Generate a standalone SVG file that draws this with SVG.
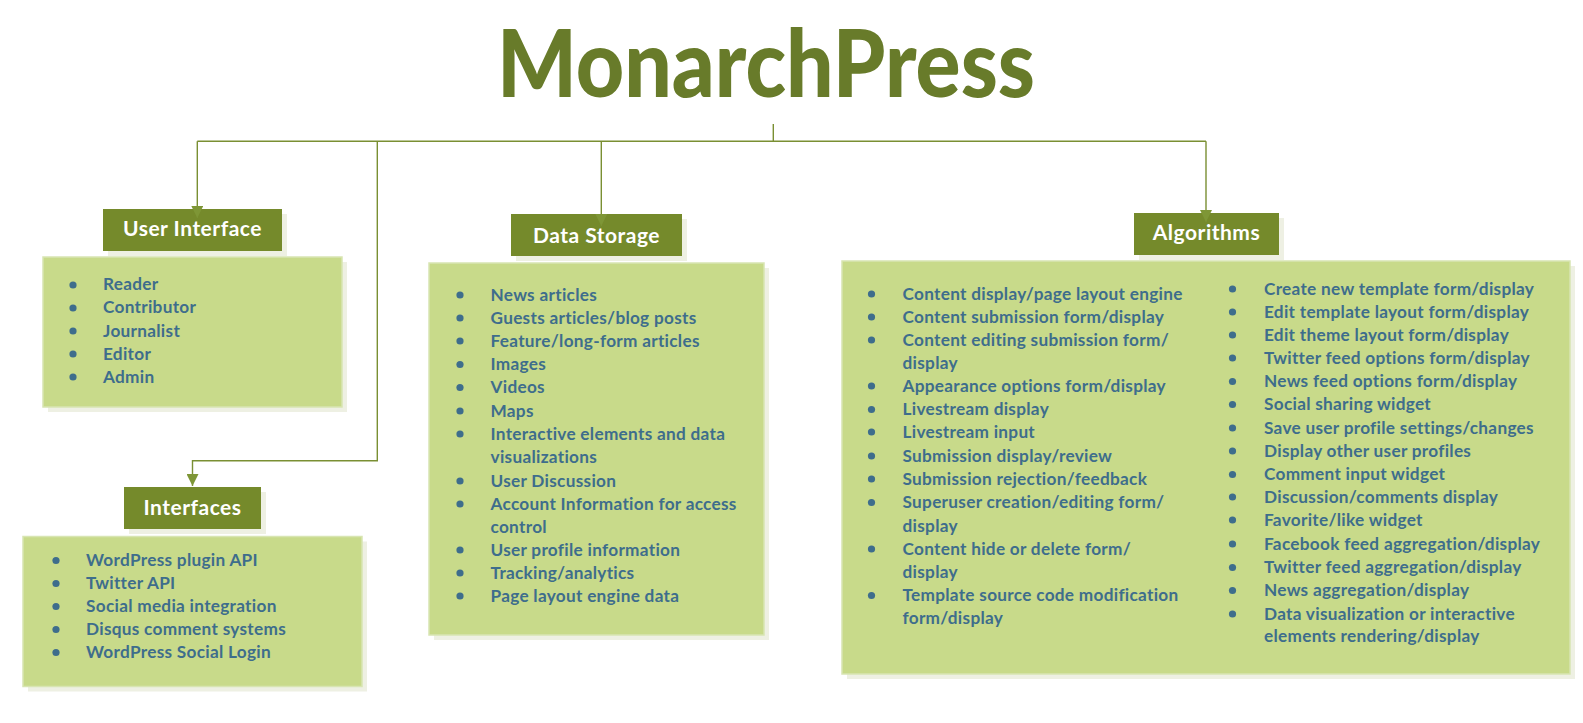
<svg xmlns="http://www.w3.org/2000/svg" width="1583" height="723" viewBox="0 0 1583 723">
<style>
.title{font-family:Lato,"Liberation Sans",sans-serif;font-weight:900;font-size:94px;fill:#687B2A}
.hdr{fill:#758A2B}
.shadow{fill:#EEF0E3}
.body{fill:#C8DA8A;stroke:#D8E5B2;stroke-width:1.5}
.htxt{font-family:Lato,"Liberation Sans",sans-serif;font-weight:700;font-size:21px;fill:#FFFFFF;text-anchor:middle;letter-spacing:0.5px}
.item{font-family:Lato,"Liberation Sans",sans-serif;font-weight:700;font-size:17.2px;fill:#3E6D8C;letter-spacing:0.3px}
.dot{fill:#3E6D8C}
.conn{fill:none;stroke:#7A8F33;stroke-width:1.4}
</style>
<defs>
<marker id="arr" markerUnits="userSpaceOnUse" markerWidth="12" markerHeight="12" refX="12" refY="6" orient="auto" viewBox="0 0 12 12">
<path d="M0,0 L12,6 L0,12 Z" fill="#7E9636"/>
</marker>
<circle id="b" r="3.6" class="dot"/>
</defs>
<rect width="1583" height="723" fill="#FFFFFF"/>
<g id="title"><text class="title" x="497" y="97" textLength="538" lengthAdjust="spacingAndGlyphs">MonarchPress</text></g>

<g id="user-interface">
<rect class="shadow" x="108" y="214" width="179" height="42"/>
<rect class="hdr" x="103" y="209" width="179" height="42"/>
<text class="htxt" x="192.5" y="236">User Interface</text>
<rect class="shadow" x="48" y="262" width="299" height="150"/>
<rect class="body" x="43" y="257" width="299" height="150"/>
<use href="#b" x="73" y="285"/><text class="item" x="103" y="290">Reader</text>
<use href="#b" x="73" y="308"/><text class="item" x="103" y="313">Contributor</text>
<use href="#b" x="73" y="331"/><text class="item" x="103" y="336.5">Journalist</text>
<use href="#b" x="73" y="354"/><text class="item" x="103" y="359.5">Editor</text>
<use href="#b" x="73" y="377"/><text class="item" x="103" y="382.5">Admin</text>
</g>

<g id="interfaces">
<rect class="shadow" x="129" y="492" width="137" height="42"/>
<rect class="hdr" x="124" y="487" width="137" height="42"/>
<text class="htxt" x="192.5" y="515">Interfaces</text>
<rect class="shadow" x="28" y="541.5" width="339" height="150"/>
<rect class="body" x="23" y="536.5" width="339" height="150"/>
<use href="#b" x="56" y="560.5"/><text class="item" x="86" y="566">WordPress plugin API</text>
<use href="#b" x="56" y="583.5"/><text class="item" x="86" y="589">Twitter API</text>
<use href="#b" x="56" y="606.5"/><text class="item" x="86" y="612">Social media integration</text>
<use href="#b" x="56" y="629.5"/><text class="item" x="86" y="635">Disqus comment systems</text>
<use href="#b" x="56" y="652.5"/><text class="item" x="86" y="658">WordPress Social Login</text>
</g>

<g id="data-storage">
<rect class="shadow" x="516" y="219" width="171" height="42"/>
<rect class="hdr" x="511" y="214" width="171" height="42"/>
<text class="htxt" x="596.5" y="242.5">Data Storage</text>
<rect class="shadow" x="434" y="268" width="335" height="372"/>
<rect class="body" x="429" y="263" width="335" height="372"/>
<use href="#b" x="460" y="295"/><text class="item" x="490.5" y="300.5">News articles</text>
<use href="#b" x="460" y="318"/><text class="item" x="490.5" y="323.5">Guests articles/blog posts</text>
<use href="#b" x="460" y="341"/><text class="item" x="490.5" y="346.5">Feature/long-form articles</text>
<use href="#b" x="460" y="364.5"/><text class="item" x="490.5" y="370">Images</text>
<use href="#b" x="460" y="387.5"/><text class="item" x="490.5" y="393">Videos</text>
<use href="#b" x="460" y="411"/><text class="item" x="490.5" y="416.5">Maps</text>
<use href="#b" x="460" y="434"/><text class="item" x="490.5" y="439.5">Interactive elements and data</text>
<text class="item" x="490.5" y="462.5">visualizations</text>
<use href="#b" x="460" y="481"/><text class="item" x="490.5" y="486.5">User Discussion</text>
<use href="#b" x="460" y="504"/><text class="item" x="490.5" y="509.5">Account Information for access</text>
<text class="item" x="490.5" y="532.5">control</text>
<use href="#b" x="460" y="550"/><text class="item" x="490.5" y="555.5">User profile information</text>
<use href="#b" x="460" y="573"/><text class="item" x="490.5" y="578.5">Tracking/analytics</text>
<use href="#b" x="460" y="596"/><text class="item" x="490.5" y="601.5">Page layout engine data</text>
</g>

<g id="algorithms">
<rect class="shadow" x="1139" y="218" width="145" height="42"/>
<rect class="hdr" x="1134" y="213" width="145" height="42"/>
<text class="htxt" x="1206.5" y="240">Algorithms</text>
<rect class="shadow" x="847" y="266" width="728" height="413"/>
<rect class="body" x="842" y="261" width="728" height="413"/>
<use href="#b" x="871.5" y="294"/><text class="item" x="902.5" y="299.5">Content display/page layout engine</text>
<use href="#b" x="871.5" y="317"/><text class="item" x="902.5" y="322.5">Content submission form/display</text>
<use href="#b" x="871.5" y="340"/><text class="item" x="902.5" y="345.5">Content editing submission form/</text>
<text class="item" x="902.5" y="369">display</text>
<use href="#b" x="871.5" y="386"/><text class="item" x="902.5" y="391.5">Appearance options form/display</text>
<use href="#b" x="871.5" y="409.5"/><text class="item" x="902.5" y="415">Livestream display</text>
<use href="#b" x="871.5" y="432"/><text class="item" x="902.5" y="437.5">Livestream input</text>
<use href="#b" x="871.5" y="456"/><text class="item" x="902.5" y="461.5">Submission display/review</text>
<use href="#b" x="871.5" y="479"/><text class="item" x="902.5" y="484.5">Submission rejection/feedback</text>
<use href="#b" x="871.5" y="502.5"/><text class="item" x="902.5" y="508">Superuser creation/editing form/</text>
<text class="item" x="902.5" y="531.5">display</text>
<use href="#b" x="871.5" y="549"/><text class="item" x="902.5" y="554.5">Content hide or delete form/</text>
<text class="item" x="902.5" y="577.5">display</text>
<use href="#b" x="871.5" y="595.5"/><text class="item" x="902.5" y="601">Template source code modification</text>
<text class="item" x="902.5" y="623.5">form/display</text>

<use href="#b" x="1232.5" y="289"/><text class="item" x="1264" y="294.5">Create new template form/display</text>
<use href="#b" x="1232.5" y="312"/><text class="item" x="1264" y="317.5">Edit template layout form/display</text>
<use href="#b" x="1232.5" y="335"/><text class="item" x="1264" y="340.5">Edit theme layout form/display</text>
<use href="#b" x="1232.5" y="358"/><text class="item" x="1264" y="363.5">Twitter feed options form/display</text>
<use href="#b" x="1232.5" y="381.5"/><text class="item" x="1264" y="387">News feed options form/display</text>
<use href="#b" x="1232.5" y="404.5"/><text class="item" x="1264" y="410">Social sharing widget</text>
<use href="#b" x="1232.5" y="428"/><text class="item" x="1264" y="433.5">Save user profile settings/changes</text>
<use href="#b" x="1232.5" y="451"/><text class="item" x="1264" y="456.5">Display other user profiles</text>
<use href="#b" x="1232.5" y="474.5"/><text class="item" x="1264" y="480">Comment input widget</text>
<use href="#b" x="1232.5" y="497"/><text class="item" x="1264" y="502.5">Discussion/comments display</text>
<use href="#b" x="1232.5" y="520"/><text class="item" x="1264" y="525.5">Favorite/like widget</text>
<use href="#b" x="1232.5" y="544"/><text class="item" x="1264" y="549.5">Facebook feed aggregation/display</text>
<use href="#b" x="1232.5" y="567.5"/><text class="item" x="1264" y="573">Twitter feed aggregation/display</text>
<use href="#b" x="1232.5" y="590.5"/><text class="item" x="1264" y="596">News aggregation/display</text>
<use href="#b" x="1232.5" y="614"/><text class="item" x="1264" y="619.5">Data visualization or interactive</text>
<text class="item" x="1264" y="641.5">elements rendering/display</text>
</g>

<g id="connectors">
<path class="conn" d="M773.3,124 V141.3"/>
<path class="conn" d="M197.3,141.3 H1206"/>
<path class="conn" d="M197.3,141.3 V218" marker-end="url(#arr)"/>
<path class="conn" d="M377.3,141.3 V460.7 H192.5 V486" marker-end="url(#arr)"/>
<path class="conn" d="M601.3,141.3 V226" marker-end="url(#arr)"/>
<path class="conn" d="M1206,141.3 V222" marker-end="url(#arr)"/>
</g>
</svg>
